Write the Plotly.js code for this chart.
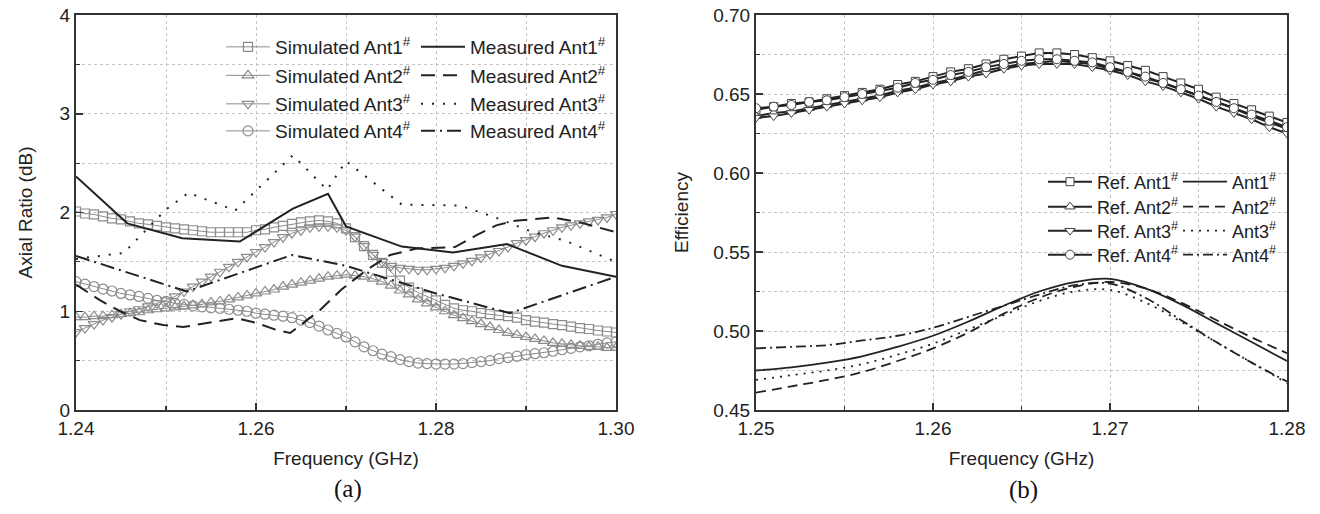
<!DOCTYPE html>
<html><head><meta charset="utf-8">
<script src="https://cdn.plot.ly/plotly-3.0.1.min.js"></script>
<style>html,body{margin:0;padding:0;background:#fff}#chart{width:1320px;height:514px}</style>
</head><body><div id="chart"></div>
<script>
// ---------- (a) Axial ratio ----------
const freqSim = [1.240,1.241,1.242,1.243,1.244,1.245,1.246,1.247,1.248,1.249,1.250,1.251,1.252,1.253,1.254,1.255,1.256,1.257,1.258,1.259,1.260,1.261,1.262,1.263,1.264,1.265,1.266,1.267,1.268,1.269,1.270,1.271,1.272,1.273,1.274,1.275,1.276,1.277,1.278,1.279,1.280,1.281,1.282,1.283,1.284,1.285,1.286,1.287,1.288,1.289,1.290,1.291,1.292,1.293,1.294,1.295,1.296,1.297,1.298,1.299,1.300];
const simAnt1 = [2.01,1.99,1.98,1.96,1.94,1.93,1.91,1.89,1.88,1.865,1.85,1.84,1.83,1.82,1.81,1.80,1.80,1.80,1.80,1.80,1.82,1.83,1.85,1.865,1.885,1.90,1.91,1.92,1.91,1.89,1.84,1.75,1.66,1.57,1.49,1.40,1.31,1.24,1.19,1.15,1.11,1.065,1.03,1.01,1.00,0.98,0.97,0.96,0.95,0.935,0.91,0.895,0.885,0.87,0.86,0.845,0.83,0.82,0.805,0.795,0.785];
const simAnt2 = [0.94,0.94,0.95,0.95,0.96,0.97,0.98,0.99,1.01,1.02,1.03,1.04,1.05,1.06,1.07,1.09,1.10,1.12,1.14,1.16,1.18,1.20,1.22,1.25,1.27,1.29,1.31,1.33,1.35,1.36,1.37,1.36,1.35,1.33,1.30,1.26,1.21,1.17,1.12,1.08,1.04,1.00,0.96,0.93,0.90,0.87,0.84,0.81,0.78,0.76,0.74,0.72,0.70,0.68,0.67,0.66,0.65,0.64,0.64,0.63,0.63];
const simAnt3 = [0.79,0.83,0.87,0.91,0.94,0.97,1.00,1.02,1.05,1.08,1.11,1.15,1.20,1.25,1.30,1.35,1.40,1.45,1.50,1.55,1.60,1.65,1.70,1.75,1.79,1.82,1.85,1.86,1.86,1.85,1.82,1.755,1.66,1.57,1.50,1.46,1.44,1.43,1.42,1.42,1.43,1.44,1.46,1.485,1.51,1.545,1.58,1.61,1.65,1.69,1.72,1.755,1.79,1.82,1.85,1.87,1.89,1.91,1.925,1.95,1.985];
const simAnt4 = [1.30,1.275,1.25,1.225,1.205,1.18,1.165,1.15,1.13,1.11,1.10,1.08,1.07,1.055,1.045,1.035,1.03,1.02,1.01,1.00,0.98,0.97,0.96,0.95,0.935,0.91,0.885,0.85,0.81,0.775,0.74,0.69,0.64,0.60,0.565,0.54,0.51,0.49,0.475,0.47,0.465,0.465,0.465,0.47,0.48,0.49,0.50,0.52,0.53,0.545,0.56,0.57,0.58,0.595,0.61,0.625,0.64,0.65,0.665,0.68,0.69];

const measFreq1 = [1.240,1.2457,1.2518,1.2582,1.2641,1.2680,1.2700,1.2762,1.2819,1.2879,1.2940,1.3000];
const measAnt1  = [2.365,1.89,1.74,1.706,2.04,2.19,1.86,1.655,1.595,1.68,1.46,1.35];
const measFreq2 = [1.240,1.2427,1.2449,1.2471,1.2497,1.2519,1.2552,1.2579,1.2601,1.2623,1.2638,1.2671,1.2695,1.2723,1.2749,1.2780,1.2821,1.2845,1.2867,1.2888,1.2930,1.2960,1.3000];
const measAnt2  = [1.27,1.11,1.00,0.91,0.86,0.84,0.89,0.93,0.88,0.81,0.78,1.01,1.22,1.42,1.57,1.637,1.65,1.77,1.87,1.917,1.95,1.90,1.80];
const measFreq3 = [1.240,1.2453,1.2500,1.2525,1.2577,1.2641,1.2679,1.2700,1.2762,1.2827,1.2866,1.2905,1.2945,1.3000];
const measAnt3  = [1.53,1.59,2.03,2.20,2.02,2.58,2.23,2.52,2.08,2.07,1.95,1.81,1.71,1.50];
const measFreq4 = [1.240,1.2523,1.2640,1.2700,1.2800,1.2882,1.3000];
const measAnt4  = [1.56,1.20,1.57,1.46,1.18,0.98,1.35];

// ---------- (b) Efficiency ----------
const freqRef = [1.250,1.251,1.252,1.253,1.254,1.255,1.256,1.257,1.258,1.259,1.260,1.261,1.262,1.263,1.264,1.265,1.266,1.267,1.268,1.269,1.270,1.271,1.272,1.273,1.274,1.275,1.276,1.277,1.278,1.279,1.280];
const refAnt1 = [0.640,0.642,0.644,0.645,0.647,0.649,0.651,0.653,0.656,0.658,0.661,0.664,0.666,0.669,0.672,0.674,0.676,0.676,0.675,0.673,0.671,0.668,0.665,0.661,0.657,0.653,0.648,0.644,0.640,0.636,0.632];
const refAnt2 = [0.636,0.638,0.639,0.641,0.643,0.645,0.647,0.649,0.652,0.654,0.657,0.659,0.662,0.665,0.667,0.669,0.670,0.671,0.670,0.669,0.666,0.664,0.660,0.657,0.653,0.649,0.645,0.641,0.636,0.632,0.628];
const refAnt3 = [0.635,0.636,0.638,0.640,0.642,0.644,0.646,0.648,0.651,0.653,0.656,0.658,0.661,0.663,0.666,0.668,0.669,0.669,0.669,0.667,0.665,0.662,0.658,0.655,0.651,0.647,0.642,0.638,0.634,0.629,0.625];
const refAnt4 = [0.641,0.642,0.643,0.645,0.646,0.648,0.650,0.652,0.654,0.657,0.659,0.662,0.664,0.667,0.669,0.671,0.672,0.672,0.671,0.670,0.667,0.664,0.661,0.657,0.653,0.649,0.645,0.641,0.637,0.633,0.629];

const freqEff = [1.250,1.252,1.254,1.256,1.258,1.260,1.262,1.264,1.266,1.268,1.270,1.272,1.274,1.276,1.278,1.280];
const effAnt1 = [0.475,0.477,0.480,0.484,0.490,0.497,0.506,0.516,0.525,0.531,0.533,0.527,0.517,0.505,0.493,0.481];
const effAnt2 = [0.461,0.465,0.469,0.474,0.481,0.489,0.499,0.511,0.521,0.528,0.531,0.527,0.518,0.507,0.496,0.486];
const effAnt3 = [0.469,0.472,0.475,0.479,0.485,0.492,0.501,0.510,0.519,0.525,0.526,0.518,0.506,0.493,0.480,0.467];
const effAnt4 = [0.489,0.490,0.491,0.494,0.497,0.502,0.509,0.516,0.523,0.529,0.530,0.521,0.507,0.493,0.480,0.468];

const simNames  = ['Simulated Ant1<sup>#</sup>','Simulated Ant2<sup>#</sup>','Simulated Ant3<sup>#</sup>','Simulated Ant4<sup>#</sup>'];
const measNames = ['Measured Ant1<sup>#</sup>','Measured Ant2<sup>#</sup>','Measured Ant3<sup>#</sup>','Measured Ant4<sup>#</sup>'];
const refNames  = ['Ref. Ant1<sup>#</sup>','Ref. Ant2<sup>#</sup>','Ref. Ant3<sup>#</sup>','Ref. Ant4<sup>#</sup>'];
const effNames  = ['Ant1<sup>#</sup>','Ant2<sup>#</sup>','Ant3<sup>#</sup>','Ant4<sup>#</sup>'];

const FONT = 'Liberation Sans, Arial, sans-serif';
const INK = '#222';
const symbols = ['square-open','triangle-up-open','triangle-down-open','circle-open'];
const symbolsB = ['square','triangle-up','triangle-down','circle'];
const dashA = ['solid','14px,8px','2px,9px','14px,5px,2px,5px'];
const dashB = ['solid','10px,6px','2px,6px','10px,4px,2px,4px'];

// legend row placement (pixels from top)
const rowsA = [47, 75.5, 104, 131];
const rowsB = [182, 207, 231, 255];

const traces = [];
const layout = {
  width: 1320, height: 514, margin: {l: 0, r: 0, t: 0, b: 0},
  paper_bgcolor: '#fff', plot_bgcolor: '#fff', showlegend: true,
  font: {family: FONT, color: INK}
};
let legN = 0;
function addLegend(xpx, ypx, size) {
  legN += 1;
  const key = legN === 1 ? 'legend' : 'legend' + legN;
  layout[key] = {bgcolor: 'rgba(0,0,0,0)', borderwidth: 0, xanchor: 'left', yanchor: 'middle',
    x: xpx / 1320, y: 1 - ypx / 514, itemwidth: 44, font: {family: FONT, size: size, color: INK}};
  return key;
}

const simY = [simAnt1, simAnt2, simAnt3, simAnt4];
const mX = [measFreq1, measFreq2, measFreq3, measFreq4];
const mY = [measAnt1, measAnt2, measAnt3, measAnt4];
for (let i = 0; i < 4; i++) {
  traces.push({x: freqSim, y: simY[i], xaxis: 'x', yaxis: 'y', type: 'scatter', mode: 'lines+markers',
    name: simNames[i], legend: addLegend(221, rowsA[i], 19),
    line: {color: '#8c8c8c', width: 1},
    marker: {symbol: symbols[i], size: i === 0 ? 9 : 10, color: '#8c8c8c', line: {width: 1.2, color: '#8c8c8c'}}});
}
for (let i = 0; i < 4; i++) {
  traces.push({x: mX[i], y: mY[i], xaxis: 'x', yaxis: 'y', type: 'scatter', mode: 'lines',
    name: measNames[i], legend: addLegend(416, rowsA[i], 19),
    line: {color: INK, width: 2, dash: dashA[i]}});
}
const refY = [refAnt1, refAnt2, refAnt3, refAnt4];
const effY = [effAnt1, effAnt2, effAnt3, effAnt4];
for (let i = 0; i < 4; i++) {
  traces.push({x: freqRef, y: refY[i], xaxis: 'x2', yaxis: 'y2', type: 'scatter', mode: 'lines+markers',
    name: refNames[i], legend: addLegend(1043, rowsB[i], 18),
    line: {color: INK, width: 2},
    marker: {symbol: symbolsB[i], size: i === 0 ? 8 : 9, color: '#ffffff', line: {width: 1, color: '#444'}}});
}
for (let i = 0; i < 4; i++) {
  traces.push({x: freqEff, y: effY[i], xaxis: 'x2', yaxis: 'y2', type: 'scatter', mode: 'lines',
    name: effNames[i], legend: addLegend(1178, rowsB[i], 18),
    line: {color: INK, width: 1.8, dash: dashB[i], shape: 'spline'}});
}

function ax(extra) {
  return Object.assign({
    showline: true, linecolor: '#333', linewidth: 2, mirror: true,
    ticks: 'inside', ticklen: 7, tickwidth: 1.5, tickcolor: '#333',
    showgrid: true, gridcolor: '#c4c4c4', gridwidth: 1, griddash: 'dot',
    zeroline: false, tickfont: {family: FONT, size: 19, color: INK},
    fixedrange: true
  }, extra);
}
function minor(dt) {
  return {dtick: dt, ticks: 'inside', ticklen: 4, tickwidth: 1.2, tickcolor: '#333', showgrid: true, gridcolor: '#c4c4c4', griddash: 'dot', gridwidth: 1};
}
const titleFont = {family: FONT, size: 19, color: INK};

Object.assign(layout, {
  xaxis: ax({domain: [76/1320, 616/1320], range: [1.24, 1.30], dtick: 0.02, tick0: 1.24, tickformat: '.2f', minor: minor(0.01),
    title: {text: 'Frequency (GHz)', font: titleFont, standoff: 14}, anchor: 'y'}),
  yaxis: ax({domain: [104/514, 499/514], range: [0, 4], dtick: 1, tick0: 0, minor: minor(0.5),
    title: {text: 'Axial Ratio (dB)', font: titleFont, standoff: 22}, anchor: 'x'}),
  xaxis2: ax({domain: [756/1320, 1287/1320], range: [1.25, 1.28], dtick: 0.01, tick0: 1.25, tickformat: '.2f', minor: minor(0.005),
    title: {text: 'Frequency (GHz)', font: titleFont, standoff: 14}, anchor: 'y2'}),
  yaxis2: ax({domain: [104/514, 499/514], range: [0.45, 0.70], dtick: 0.05, tick0: 0.45, tickformat: '.2f', minor: minor(0.025),
    title: {text: 'Efficiency', font: titleFont, standoff: 20}, anchor: 'x2'}),
  annotations: [
    {text: '(a)', x: 348/1320, y: 1 - 489/514, xref: 'paper', yref: 'paper', showarrow: false, xanchor: 'center', yanchor: 'middle',
     font: {family: 'Liberation Serif, Times New Roman, serif', size: 25, color: '#111'}},
    {text: '(b)', x: 1023/1320, y: 1 - 490/514, xref: 'paper', yref: 'paper', showarrow: false, xanchor: 'center', yanchor: 'middle',
     font: {family: 'Liberation Serif, Times New Roman, serif', size: 25, color: '#111'}}
  ]
});
Plotly.newPlot('chart', traces, layout, {staticPlot: true, displayModeBar: false});
</script>
</body></html>
